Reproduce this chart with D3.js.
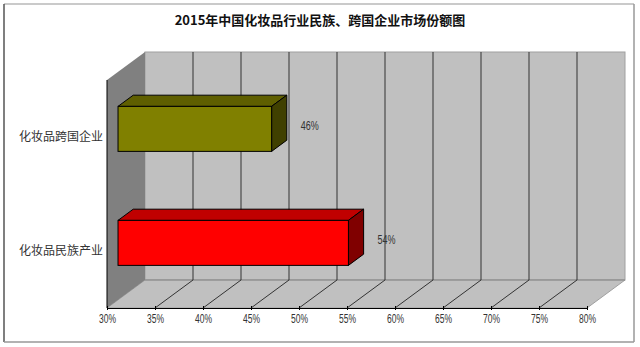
<!DOCTYPE html>
<html>
<head>
<meta charset="utf-8">
<script src="https://cdn.jsdelivr.net/npm/d3@7"></script>
<style>
  body { margin: 0; background: #fff; }
  svg { display: block; }
</style>
</head>
<body>
<svg id="chart" width="640" height="347"></svg>
<script>
'use strict'

const title = '2015年中国化妆品行业民族、跨国企业市场份额图'
const categories = ['化妆品跨国企业', '化妆品民族产业']
const shares = [0.46, 0.54]
const tickValues = [0.30, 0.35, 0.40, 0.45, 0.50, 0.55, 0.60, 0.65, 0.70, 0.75, 0.80]

// front face, top face, side face for each bar
const barColors = [
  ['#808000', '#5f5f00', '#404000'],
  ['#ff0000', '#c00000', '#800000']
]

const svg = d3.select('#chart')

const plot = { left: 107, right: 587, top: 80, bottom: 308 }
const depth = { dx: 38, dy: -28 }
const barDepth = [0.29, 0.69]
const barHeight = 45
const numFont = '"Liberation Sans Narrow", "Liberation Sans", sans-serif'

const x = d3.scaleLinear().domain([tickValues[0], tickValues[tickValues.length - 1]]).range([plot.left, plot.right])
const y = d3.scaleBand().domain(categories).range([plot.top, plot.bottom])
const pct = d3.format('.0%')

const pts = arr => arr.map(p => p.join(',')).join(' ')

// frame
svg.append('line').attr('x1', 4).attr('y1', 4).attr('x2', 634).attr('y2', 4).attr('stroke', '#b8b8b8').attr('stroke-width', 1.5)
svg.append('line').attr('x1', 4).attr('y1', 4).attr('x2', 4).attr('y2', 342).attr('stroke', '#555').attr('stroke-width', 1.5)
svg.append('line').attr('x1', 634).attr('y1', 4).attr('x2', 634).attr('y2', 342).attr('stroke', '#999').attr('stroke-width', 1.5)
svg.append('line').attr('x1', 4).attr('y1', 342).attr('x2', 634).attr('y2', 342).attr('stroke', '#999').attr('stroke-width', 1.5)

svg.append('text')
  .attr('x', 320)
  .attr('y', 25)
  .attr('text-anchor', 'middle')
  .style('font-family', '"Noto Sans CJK SC", sans-serif')
  .style('font-size', '13px')
  .style('font-weight', 'bold')
  .attr('fill', '#111')
  .text(title)

const backLeft = plot.left + depth.dx
const backRight = plot.right + depth.dx
const backTop = plot.top + depth.dy
const backBottom = plot.bottom + depth.dy

// back wall
svg.append('rect')
  .attr('x', backLeft)
  .attr('y', backTop)
  .attr('width', backRight - backLeft)
  .attr('height', backBottom - backTop)
  .attr('fill', '#c0c0c0')
  .attr('stroke', '#a0a0a0')

// floor
svg.append('polygon')
  .attr('points', pts([[plot.left, plot.bottom], [backLeft, backBottom], [backRight, backBottom], [plot.right, plot.bottom]]))
  .attr('fill', '#c0c0c0')
  .attr('stroke', '#a0a0a0')

// left wall
svg.append('polygon')
  .attr('points', pts([[plot.left, plot.top], [backLeft, backTop], [backLeft, backBottom], [plot.left, plot.bottom]]))
  .attr('fill', '#808080')

svg.append('line')
  .attr('x1', backLeft).attr('y1', backBottom)
  .attr('x2', backRight).attr('y2', backBottom)
  .attr('stroke', '#8a8a8a')

const inner = tickValues.slice(1, -1)

svg.append('g').selectAll('line')
  .data(inner)
  .join('line')
  .attr('x1', d => x(d) + depth.dx).attr('x2', d => x(d) + depth.dx)
  .attr('y1', backTop).attr('y2', backBottom)
  .attr('stroke', '#333')

svg.append('g').selectAll('line')
  .data(inner)
  .join('line')
  .attr('x1', d => x(d) + depth.dx).attr('y1', backBottom)
  .attr('x2', d => x(d)).attr('y2', plot.bottom)
  .attr('stroke', '#333')

// axes
const xAxis = d3.axisBottom(x)
  .tickValues(tickValues)
  .tickFormat(pct)
  .tickSizeInner(2)
  .tickSizeOuter(0)
  .tickPadding(4)

const gx = svg.append('g')
  .attr('transform', `translate(0,${plot.bottom})`)
  .call(xAxis)
gx.select('.domain').attr('stroke', '#000')
gx.selectAll('.tick line').attr('stroke', '#000').attr('y1', -2)
gx.selectAll('.tick text')
  .attr('fill', '#333')
  .attr('textLength', 17)
  .attr('lengthAdjust', 'spacingAndGlyphs')
  .style('font-family', numFont)
  .style('font-size', '12px')

svg.append('line')
  .attr('x1', plot.left).attr('y1', plot.top)
  .attr('x2', plot.left).attr('y2', plot.bottom)
  .attr('stroke', '#000')

svg.append('g').selectAll('text')
  .data(categories)
  .join('text')
  .attr('x', plot.left - 4)
  .attr('y', d => y(d) + y.bandwidth() / 2)
  .attr('dy', '0.35em')
  .attr('text-anchor', 'end')
  .attr('fill', '#333')
  .style('font-family', '"Noto Sans CJK SC", sans-serif')
  .style('font-size', '12px')
  .text(d => d)

// 3d bars
const bars = svg.append('g')
categories.forEach((cat, i) => {
  const cy = y(cat) + y.bandwidth() / 2
  const fx = depth.dx * barDepth[0]
  const fy = depth.dy * barDepth[0]
  const bx = depth.dx * barDepth[1]
  const by = depth.dy * barDepth[1]
  const x0 = x(tickValues[0])
  const x1 = x(shares[i])
  const top = cy - barHeight / 2
  const bottom = cy + barHeight / 2
  const colors = barColors[i]
  const g = bars.append('g').attr('stroke', '#000').attr('stroke-width', 1)

  g.append('polygon')
    .attr('points', pts([[x0 + fx, top + fy], [x0 + bx, top + by], [x1 + bx, top + by], [x1 + fx, top + fy]]))
    .attr('fill', colors[1])
  g.append('polygon')
    .attr('points', pts([[x1 + fx, top + fy], [x1 + bx, top + by], [x1 + bx, bottom + by], [x1 + fx, bottom + fy]]))
    .attr('fill', colors[2])
  g.append('rect')
    .attr('x', x0 + fx)
    .attr('y', top + fy)
    .attr('width', x1 - x0)
    .attr('height', barHeight)
    .attr('fill', colors[0])

  svg.append('text')
    .attr('x', x1 + bx + 14)
    .attr('y', cy - 11)
    .attr('dy', '0.35em')
    .attr('fill', '#333')
    .attr('textLength', 18)
    .attr('lengthAdjust', 'spacingAndGlyphs')
    .style('font-family', numFont)
    .style('font-size', '12px')
    .text(pct(shares[i]))
})
</script>
</body>
</html>
